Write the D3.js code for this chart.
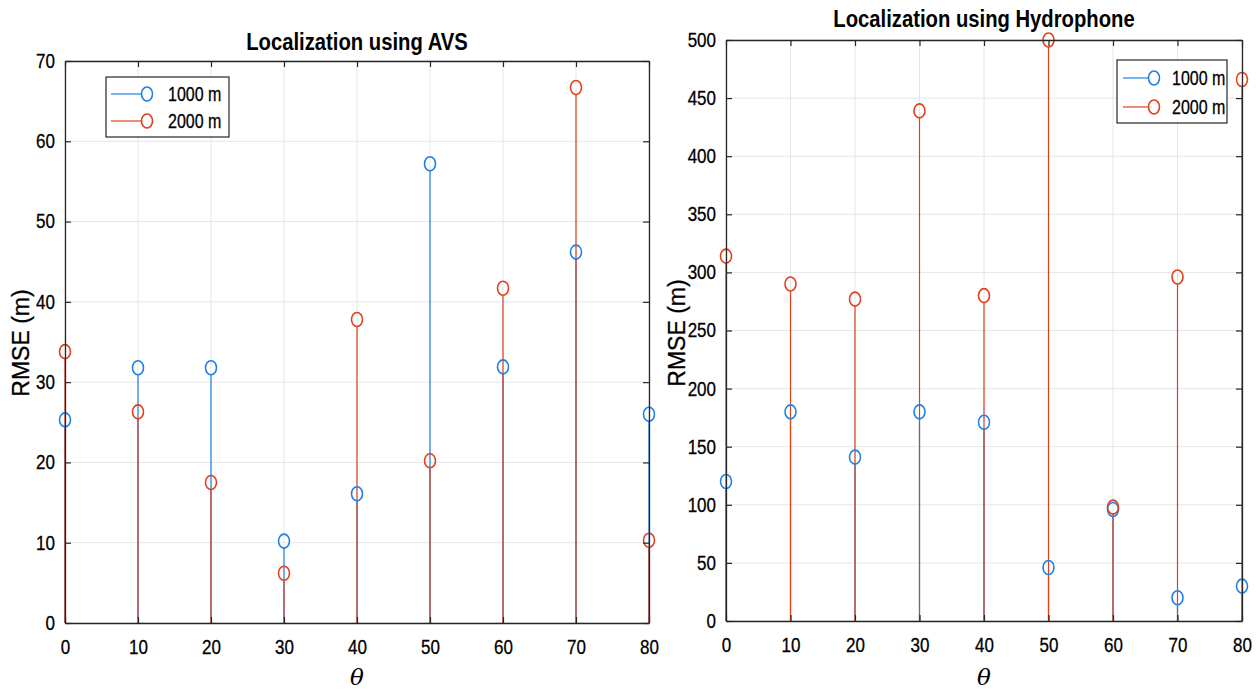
<!DOCTYPE html>
<html>
<head>
<meta charset="utf-8">
<script src="https://cdn.jsdelivr.net/npm/d3@7"></script>
<style>
body { margin: 0; background: #fff; }
svg text { font-family: "Liberation Sans", Arial, sans-serif; fill: #000; }
</style>
</head>
<body>
<div id="c"></div>
<script>
var theta = [0, 10, 20, 30, 40, 50, 60, 70, 80];
var series_names = ['1000 m', '2000 m'];

// AVS
var avs_1000 = [25.3, 31.8, 31.8, 10.2, 16.1, 57.2, 31.9, 46.2, 26.0];
var avs_2000 = [33.8, 26.3, 17.5, 6.2, 37.8, 20.2, 41.7, 66.7, 10.3];
var avs_yticks = [0, 10, 20, 30, 40, 50, 60, 70];

// Hydrophone
var hyd_1000 = [120, 180, 141, 180, 171, 46, 96, 20, 30];
var hyd_2000 = [314, 290, 277, 439, 280, 500, 98, 296, 466];
var hyd_yticks = [0, 50, 100, 150, 200, 250, 300, 350, 400, 450, 500];

var colors = ['#1f80e6', '#e2401d'];

var width = 1256, height = 691;

var svg = d3.select('#c').append('svg')
	.attr('width', width)
	.attr('height', height);

// squeeze glyphs sideways, the source image is narrow
function condense(sel, f) {
	sel.each(function() {
		var len = this.getComputedTextLength();
		if (len > 0) {
			d3.select(this).attr('textLength', len * f).attr('lengthAdjust', 'spacingAndGlyphs');
		}
	});
}

function draw_panel(opt) {
	var x_scale = d3.scaleLinear().domain([0, 80]).range([opt.left, opt.right]);
	var y_scale = d3.scaleLinear().domain([0, opt.ymax]).range([opt.bottom, opt.top]);
	var g = svg.append('g');

	// grid
	g.selectAll('.vgrid').data(theta).enter().append('line')
		.attr('x1', function(d) { return x_scale(d); })
		.attr('x2', function(d) { return x_scale(d); })
		.attr('y1', opt.top).attr('y2', opt.bottom)
		.attr('stroke', '#e3e6e8').attr('stroke-width', 1);
	g.selectAll('.hgrid').data(opt.yticks).enter().append('line')
		.attr('y1', function(d) { return y_scale(d); })
		.attr('y2', function(d) { return y_scale(d); })
		.attr('x1', opt.left).attr('x2', opt.right)
		.attr('stroke', '#e3e6e8').attr('stroke-width', 1);

	// stems, first series then second on top
	var sets = [opt.s1, opt.s2];
	sets.forEach(function(vals, k) {
		var sg = g.append('g');
		sg.selectAll('line').data(vals).enter().append('line')
			.attr('x1', function(d, i) { return x_scale(theta[i]); })
			.attr('x2', function(d, i) { return x_scale(theta[i]); })
			.attr('y1', y_scale(0))
			.attr('y2', function(d) { return y_scale(d) + 7; })
			.attr('stroke', colors[k]).attr('stroke-width', 1.2);
	});
	sets.forEach(function(vals, k) {
		var sg = g.append('g');
		sg.selectAll('ellipse').data(vals).enter().append('ellipse')
			.attr('cx', function(d, i) { return x_scale(theta[i]); })
			.attr('cy', function(d) { return y_scale(d); })
			.attr('rx', 5.5).attr('ry', 7)
			.attr('fill', 'none')
			.attr('stroke', colors[k]).attr('stroke-width', 1.6);
	});

	// axes (ticks inward, box)
	var ax_col = '#262626';
	var bx = g.append('g')
		.attr('transform', 'translate(0,' + opt.bottom + ')')
		.call(d3.axisBottom(x_scale).tickValues(theta).tickSizeInner(-6).tickSizeOuter(0).tickPadding(17));
	var tx = g.append('g')
		.attr('transform', 'translate(0,' + opt.top + ')')
		.call(d3.axisTop(x_scale).tickValues(theta).tickSizeInner(-6).tickSizeOuter(0).tickFormat(''));
	var ly = g.append('g')
		.attr('transform', 'translate(' + opt.left + ',0)')
		.call(d3.axisLeft(y_scale).tickValues(opt.yticks).tickSizeInner(-6).tickSizeOuter(0).tickPadding(10));
	var ry = g.append('g')
		.attr('transform', 'translate(' + opt.right + ',0)')
		.call(d3.axisRight(y_scale).tickValues(opt.yticks).tickSizeInner(-6).tickSizeOuter(0).tickFormat(''));
	[bx, tx, ly, ry].forEach(function(a) {
		a.selectAll('path').attr('stroke', ax_col).attr('stroke-width', 1.3);
		a.selectAll('line').attr('stroke', ax_col).attr('stroke-width', 1.2);
		a.selectAll('text')
			.style('font-family', '"Liberation Sans", Arial, sans-serif')
			.attr('font-size', 20).attr('fill', '#000')
			.attr('stroke', '#000').attr('stroke-width', 0.3);
		condense(a.selectAll('text'), 0.85);
	});

	// title
	var t = g.append('text')
		.attr('x', (opt.left + opt.right) / 2)
		.attr('y', opt.title_y)
		.attr('text-anchor', 'middle')
		.attr('font-size', 23)
		.attr('font-weight', 'bold')
		.text(opt.title);
	condense(t, 0.88);

	// y label
	g.append('text')
		.attr('transform', 'translate(' + opt.ylab_x + ',' + opt.ylab_y + ') rotate(-90)')
		.attr('text-anchor', 'middle')
		.attr('font-size', 23)
		.attr('stroke', '#000').attr('stroke-width', 0.3)
		.text('RMSE (m)');

	// x label
	g.append('text')
		.attr('x', (opt.left + opt.right) / 2)
		.attr('y', 685)
		.attr('text-anchor', 'middle')
		.style('font-family', '"DejaVu Serif", "Liberation Serif", serif')
		.style('font-style', 'italic')
		.attr('font-size', 23)
		.text('\u03b8');

	// legend
	var L = opt.legend;
	var lg = g.append('g');
	lg.append('rect')
		.attr('x', L.x).attr('y', L.y).attr('width', L.w).attr('height', L.h)
		.attr('fill', '#fff').attr('stroke', ax_col).attr('stroke-width', 1.2);
	series_names.forEach(function(name, k) {
		var yy = L.row0 + k * L.dy;
		lg.append('line')
			.attr('x1', L.lx0).attr('x2', L.cx - 5.5)
			.attr('y1', yy).attr('y2', yy)
			.attr('stroke', colors[k]).attr('stroke-width', 1.2);
		lg.append('ellipse')
			.attr('cx', L.cx).attr('cy', yy).attr('rx', 5.5).attr('ry', 7)
			.attr('fill', 'none').attr('stroke', colors[k]).attr('stroke-width', 1.6);
		var lt = lg.append('text')
			.attr('x', L.tx).attr('y', yy + 7)
			.attr('font-size', 20)
			.attr('stroke', '#000').attr('stroke-width', 0.3)
			.text(name);
		condense(lt, 0.8);
	});
}

draw_panel({
	left: 65, right: 649, top: 61, bottom: 623, ymax: 70,
	yticks: avs_yticks, s1: avs_1000, s2: avs_2000,
	title: 'Localization using AVS', title_y: 50, ylab_x: 29, ylab_y: 343,
	legend: { x: 106, y: 77, w: 123, h: 60, row0: 94, dy: 27, lx0: 111, cx: 147, tx: 168 }
});

draw_panel({
	left: 726, right: 1242, top: 40, bottom: 621, ymax: 500,
	yticks: hyd_yticks, s1: hyd_1000, s2: hyd_2000,
	title: 'Localization using Hydrophone', title_y: 27, ylab_x: 685, ylab_y: 333,
	legend: { x: 1117, y: 60, w: 110, h: 63, row0: 78, dy: 29, lx0: 1123, cx: 1154, tx: 1172 }
});
</script>
</body>
</html>
